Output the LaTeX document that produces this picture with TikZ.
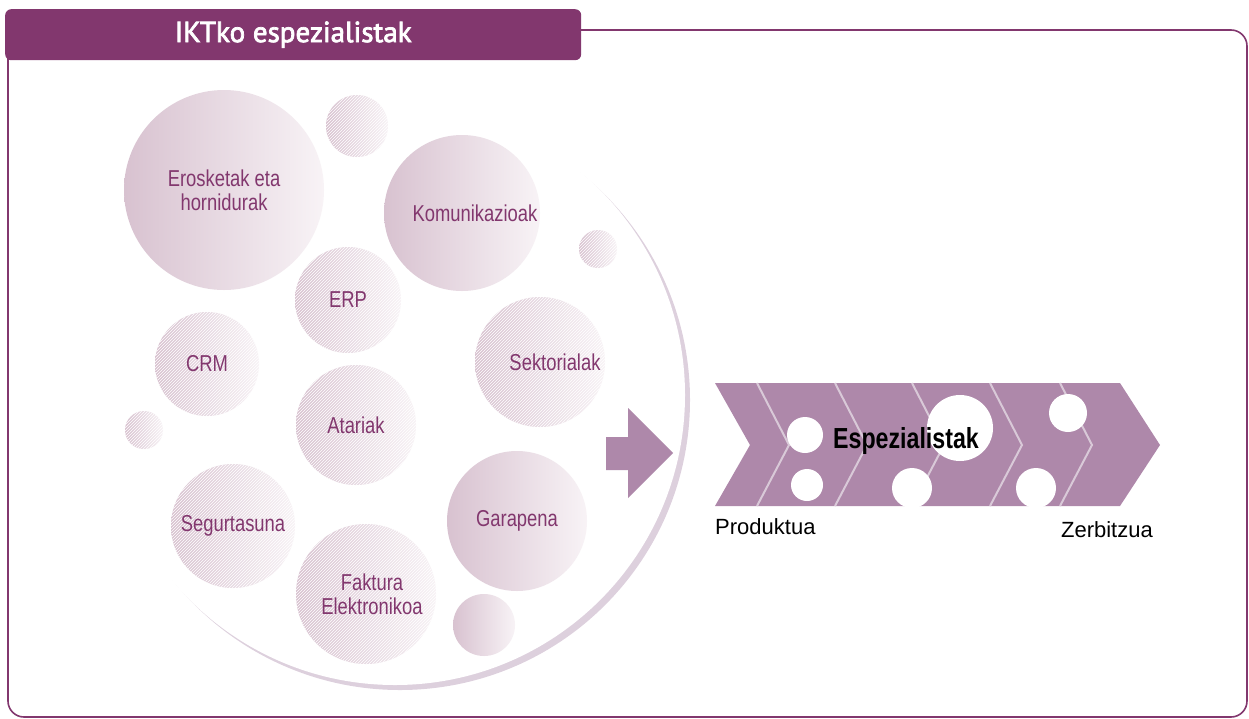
\documentclass[tikz,border=0pt]{standalone}
\usepackage{fontspec}
\setmainfont{Liberation Sans}
\newfontfamily\narrowfont{Liberation Sans}[FakeStretch=0.8]
\newfontfamily\titlefont{PT Sans}[FakeBold=2.5]
\usetikzlibrary{patterns}

\definecolor{iktpurple}{HTML}{82376E}
\definecolor{chevroncol}{HTML}{AE88AA}
\definecolor{chevronline}{HTML}{D9C9D8}
\definecolor{ringcol}{HTML}{DDD0DD}
\definecolor{bubbledark}{HTML}{D8C2D0}
\definecolor{bubblelight}{HTML}{F8F3F6}

\tikzset{
  bubbletext/.style={text=iktpurple,align=center,inner sep=0pt,
    font=\narrowfont\fontsize{23}{24}\selectfont},
  bubble/.style={circle,inner sep=0pt,minimum size=#1,
    left color=bubbledark,right color=bubblelight,bubbletext},
  hatched/.style={bubble=#1,
    postaction={pattern=north east lines,pattern color=white}},
  hole/.style={circle,fill=white,inner sep=0pt,minimum size=#1}
}

\begin{document}
\begin{tikzpicture}[x=1pt,y=-1pt]
        \useasboundingbox (0,0) rectangle (1249,718);

        % frame and title
        \draw[iktpurple,line width=1.6,rounded corners=16] (8,30) rectangle (1247,717);
        \node[fill=iktpurple,rounded corners=6,inner sep=0pt,anchor=north west,
              minimum width=576,minimum height=51,text=white,
              font=\titlefont\fontsize{29}{30}\selectfont] (header) at (5,9) {IKTko espezialistak};

        % ring behind the bubbles
        \fill[ringcol] (400,400) circle (290);
        \fill[white] (395,395) circle (290);

        % bubbles
        \node[bubble=200]  (erosketak) at (224,190) {Erosketak eta\\hornidurak};
        \node[hatched=62]  (s1) at (357,126) {};
        \node[bubble=156,label={[bubbletext,xshift=13]center:Komunikazioak}] (komunikazioak) at (462,213) {};
        \node[hatched=38]  (s2) at (598,249) {};
        \node[hatched=106] (erp) at (348,300) {ERP};
        \node[hatched=130,label={[bubbletext,xshift=15]center:Sektorialak}] (sektorialak) at (540,362) {};
        \node[hatched=104] (crm) at (207,364) {CRM};
        \node[hatched=38]  (s3) at (144,430) {};
        \node[hatched=120] (atariak) at (356,425) {Atariak};
        \node[hatched=124] (segurtasuna) at (233,526) {Segurtasuna};
        \node[bubble=140]  (garapena) at (517,521) {Garapena};
        \node[hatched=140,label={[bubbletext,xshift=6]center:Faktura\\Elektronikoa}] (faktura) at (366,594) {};
        \node[bubble=62]   (s4) at (484,625) {};

        % big arrow
        \fill[chevroncol] (606,437) -- (628,437) -- (628,408) -- (673,453)
                       -- (628,498) -- (628,470) -- (606,470) -- cycle;

        % value chain
        \fill[chevroncol] (715,383) -- (1120,383) -- (1160,445) -- (1120,506)
                       -- (715,506) -- (750,445) -- cycle;
        \draw[chevronline,line width=2]
              (757,383) -- (789,445) -- (757,506)
              (835,383) -- (867,445) -- (835,506)
              (912,383) -- (944,445) -- (912,506)
              (990,383) -- (1022,445) -- (990,506)
              (1060,383) -- (1092,445) -- (1060,506);
        \begin{scope}
            \clip (715,383) rectangle (1160,506);
            \node[hole=36] (h1) at (805,435) {};
            \node[hole=32] (h2) at (807,485) {};
            \node[hole=66] (h3) at (960,428) {};
            \node[hole=40] (h4) at (912,488) {};
            \node[hole=38] (h5) at (1068,413) {};
            \node[hole=40] (h6) at (1036,488) {};
        \end{scope}
        \node[font=\narrowfont\bfseries\fontsize{29}{30}\selectfont] (espezialistak) at (906,441) {Espezialistak};

        \node[anchor=base west,inner sep=0pt,font=\fontsize{22}{24}\selectfont] (produktua) at (715,534) {Produktua};
        \node[anchor=base east,inner sep=0pt,font=\fontsize{22}{24}\selectfont] (zerbitzua) at (1153,537) {Zerbitzua};
    \end{tikzpicture}
\end{document}
